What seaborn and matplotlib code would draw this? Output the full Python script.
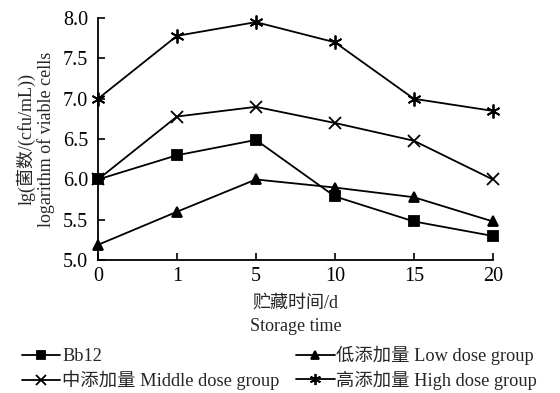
import matplotlib
matplotlib.use("Agg")
import matplotlib.pyplot as plt
import seaborn as sns
import pandas as pd
import numpy as np

days = ["0", "1", "5", "10", "15", "20"]
bb12 = [6.0, 6.3, 6.49, 5.79, 5.48, 5.3]
low = [5.19, 5.6, 6.0, 5.9, 5.78, 5.48]
middle = [6.0, 6.78, 6.9, 6.7, 6.48, 6.0]
high = [7.0, 7.78, 7.95, 7.7, 7.0, 6.85]
labels = ["Bb12", "低添加量 Low dose group", "中添加量 Middle dose group", "高添加量 High dose group"]
yticks = [5.0, 5.5, 6.0, 6.5, 7.0, 7.5, 8.0]

sns.set_theme(style="ticks")
FAM = ["Liberation Serif", "Noto Sans CJK SC"]
plt.rcParams["font.family"] = FAM

rows = []
for lab, vals in zip(labels, [bb12, low, middle, high]):
    for i, v in enumerate(vals):
        rows.append({"pos": i, "value": v, "group": lab})
df = pd.DataFrame(rows)

fig = plt.figure(figsize=(5.6, 3.93), dpi=100)
ax = fig.add_axes([0.175, 0.338, 0.705, 0.616])

markers = {labels[0]: "s", labels[1]: "^", labels[2]: "x", labels[3]: (6, 2, 0)}
sizes = {labels[0]: 7, labels[1]: 7, labels[2]: 9, labels[3]: 10}
for lab in labels:
    sub = df[df["group"] == lab]
    sns.lineplot(data=sub, x="pos", y="value", ax=ax, color="black", lw=1.3,
                 marker=markers[lab], markersize=sizes[lab], markeredgewidth=1.3,
                 markeredgecolor="black", markerfacecolor="black", label=lab,
                 clip_on=False, legend=False)

ax.set_xlim(0, len(days) - 1)
ax.set_ylim(5.0, 8.0)
ax.set_xticks(range(len(days)))
ax.set_xticklabels(days)
ax.set_yticks(yticks)
ax.set_yticklabels([f"{t:.1f}" for t in yticks])
ax.tick_params(direction="in", length=5, width=1.2, colors="black", labelsize=14.5)
ax.tick_params(axis="y", pad=7)
ax.tick_params(axis="x", pad=5)
for s in ["top", "right"]:
    ax.spines[s].set_visible(False)
for s in ["left", "bottom"]:
    ax.spines[s].set_linewidth(1.3)
    ax.spines[s].set_color("black")
ax.set_xlabel("贮藏时间/d\nStorage time", fontsize=13, linespacing=1.5, labelpad=6, family=FAM)
ax.set_ylabel("lg(菌数/(cfu/mL))\nlogarithm of viable cells", fontsize=13, linespacing=1.1, labelpad=6, family=FAM)

handles, labs = ax.get_legend_handles_labels()
order = [0, 2, 1, 3]
leg = fig.legend([handles[i] for i in order], [labs[i] for i in order],
                 loc="upper left", bbox_to_anchor=(0.039, 0.12), ncol=2, frameon=False,
                 fontsize=13.2, handlelength=2.1, handletextpad=0.1, columnspacing=0.9,
                 labelspacing=0.3, markerscale=0.8, borderaxespad=0, borderpad=0)

fig.savefig("out.png", dpi=100)
